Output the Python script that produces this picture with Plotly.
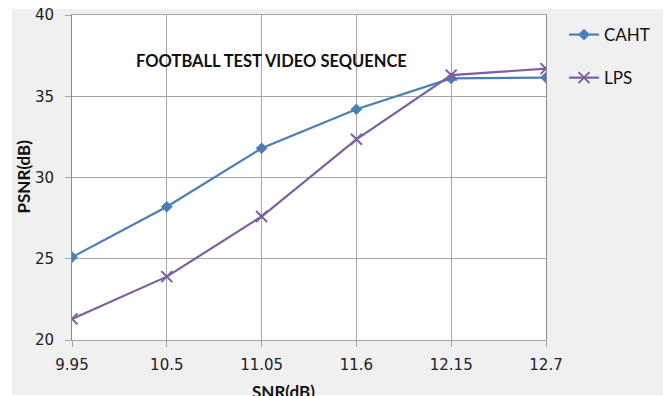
import plotly.graph_objects as go

snr = [9.95, 10.5, 11.05, 11.6, 12.15, 12.7]
snr_labels = ["9.95", "10.5", "11.05", "11.6", "12.15", "12.7"]
caht = [25.1, 28.2, 31.8, 34.2, 36.1, 36.15]
lps = [21.3, 23.9, 27.6, 32.35, 36.3, 36.7]
y_ticks = [20, 25, 30, 35, 40]

W, H = 663, 396
L, R, T, B = 72, 117, 15, 56
pw = W - L - R
ph = H - T - B

def px_x(p):
    return (p - L) / pw

def px_y(p):
    return (H - B - p) / ph

fig = go.Figure()
fig.add_trace(go.Scatter(
    x=snr, y=caht, name="CAHT", mode="lines+markers", legendgroup="a",
    line=dict(color="#4a7ebb", width=2.2),
    marker=dict(symbol="diamond", size=9, color="#4a7ebb"),
))
fig.add_trace(go.Scatter(
    x=snr, y=lps, name="LPS", mode="lines+markers", legendgroup="b",
    line=dict(color="#7d5fa0", width=2.2),
    marker=dict(symbol="x-thin", size=11, line=dict(color="#7d5fa0", width=2)),
))

grid = "#a6a6a6"
fig.update_xaxes(
    range=[snr[0], snr[-1]], tickvals=snr, ticktext=snr_labels,
    showgrid=True, gridcolor=grid, gridwidth=1,
    showline=True, linecolor=grid, linewidth=1, mirror=True,
    ticks="outside", ticklen=6, tickcolor=grid,
    ticklabelstandoff=5,
    tickfont=dict(family="DejaVu Sans", size=15, color="#222"),
    zeroline=False, fixedrange=True,
)
fig.update_yaxes(
    range=[20, 40], tickvals=y_ticks,
    showgrid=True, gridcolor=grid, gridwidth=1,
    showline=True, linecolor="#8c8c8c", linewidth=1, mirror=True,
    ticks="outside", ticklen=6, tickcolor=grid,
    ticklabelstandoff=8,
    tickfont=dict(family="DejaVu Sans", size=15, color="#222"),
    zeroline=False, fixedrange=True,
)

shapes = [
    dict(type="rect", xref="paper", yref="paper", layer="below",
         x0=px_x(12), x1=px_x(W + 5), y0=px_y(395), y1=px_y(9),
         fillcolor="#f0f0f0", line=dict(width=0)),
    dict(type="rect", xref="paper", yref="paper", layer="below",
         x0=0, x1=1, y0=0, y1=1, fillcolor="white", line=dict(width=0)),
]

annotations = [
    dict(text="<b>FOOTBALL TEST VIDEO SEQUENCE</b>", xref="paper", yref="paper",
         x=px_x(271), y=px_y(61), xanchor="center", yanchor="middle",
         showarrow=False, font=dict(family="Lato", size=16.5, color="#111")),
    dict(text="<b>PSNR(dB)</b>", xref="paper", yref="paper", textangle=-90,
         x=px_x(22.5), y=px_y(177), xanchor="center", yanchor="middle",
         showarrow=False, font=dict(family="Lato", size=17, color="#111")),
    dict(text="<b>SNR(dB)</b>", xref="paper", yref="paper",
         x=px_x(283), y=px_y(391), xanchor="center", yanchor="middle",
         showarrow=False, font=dict(family="Lato", size=17, color="#111")),
]

fig.update_layout(
    width=W, height=H,
    margin=dict(l=L, r=R, t=T, b=B, autoexpand=False),
    paper_bgcolor="white", plot_bgcolor="rgba(0,0,0,0)",
    shapes=shapes, annotations=annotations,
    showlegend=True,
    legend=dict(
        x=px_x(564), y=px_y(17), xanchor="left", yanchor="top",
        bgcolor="rgba(0,0,0,0)", traceorder="grouped", tracegroupgap=18,
        font=dict(family="Lato", size=17, color="#111"),
    ),
)

fig.write_html("out.html")
